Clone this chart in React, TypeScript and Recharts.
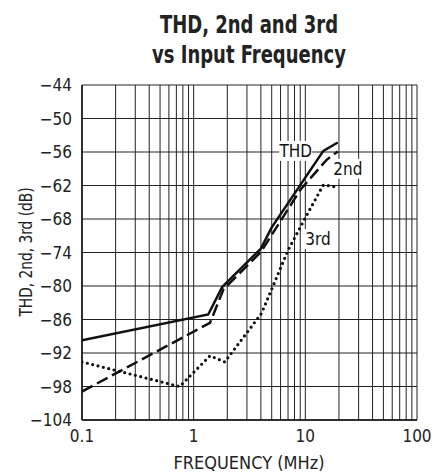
import React from 'react';
import { LineChart, Line, XAxis, YAxis, CartesianGrid, ReferenceDot } from 'recharts';

const xTicks = [0.1, 0.2, 0.3, 0.4, 0.5, 0.6, 0.7, 0.8, 0.9, 1, 2, 3, 4, 5, 6, 7, 8, 9, 10, 20, 30, 40, 50, 60, 70, 80, 90, 100];
const xLabelTicks = [0.1, 1, 10, 100];
const yTicks = [-104, -98, -92, -86, -80, -74, -68, -62, -56, -50, -44];

const thdFreq = [0.1, 1.35, 1.8, 4, 5, 14.5, 19.5];
const thdVal = [-89.7, -85.1, -80.2, -73.3, -69.5, -55.8, -54.3];
const secFreq = [0.1, 1.4, 1.85, 4, 9, 15.5, 19.5];
const secVal = [-98.9, -86.6, -80.6, -73.9, -62.8, -57.4, -55.9];
const thirdFreq = [0.1, 0.75, 1.4, 1.9, 4.05, 7, 10.3, 14.5, 19.6];
const thirdVal = [-93.6, -98.0, -92.5, -93.6, -84.9, -73.6, -67.3, -61.9, -62.3];

const seriesLabels = [
  { text: 'THD', f: 8.2, v: -55.8 },
  { text: '2nd', f: 24, v: -59.0 },
  { text: '3rd', f: 13, v: -71.6 },
];

const toRows = (fs: number[], vs: number[]) => fs.map((f, i) => ({ f, v: vs[i] }));
const thd = toRows(thdFreq, thdVal);
const sec = toRows(secFreq, secVal);
const third = toRows(thirdFreq, thirdVal);

const FONT = '"Liberation Sans Narrow", "DejaVu Sans Condensed", "Liberation Sans", sans-serif';

const fmtY = (v: number) => (v < 0 ? '\u2212' + Math.abs(v) : String(v));
const fmtX = (v: number) => (xLabelTicks.includes(v) ? String(v) : '');

const LabelShape = (text: string) => (props: any) => {
  const { cx, cy } = props;
  const w = text.length * 9 + 6;
  return (
    <g>
      <rect x={cx - w / 2} y={cy - 10} width={w} height={20} fill="#fff" />
      <text x={cx} y={cy} textAnchor="middle" dominantBaseline="central" fontFamily={FONT} fontSize={17} fill="#111">
        {text}
      </text>
    </g>
  );
};

export default function App() {
  return (
    <div style={{ position: 'absolute', left: 0, top: 0, width: 443, height: 473, background: '#fff' }}>
      <div
        style={{
          position: 'absolute', left: 0, width: 498, top: 9.6, textAlign: 'center',
          fontFamily: FONT, fontWeight: 'bold', fontSize: 25, lineHeight: '30px', color: '#222',
          transform: 'scaleX(0.8)', transformOrigin: '249px 0px',
        }}
      >
        THD, 2nd and 3rd
        <br />
        vs Input Frequency
      </div>
      <LineChart
        width={443}
        height={473}
        margin={{ top: 85, right: 26, bottom: 0, left: 0 }}
        style={{ position: 'absolute', left: 0, top: 0 }}
      >
        <CartesianGrid stroke="#222" strokeWidth={1} />
        <XAxis
          type="number"
          dataKey="f"
          scale="log"
          domain={[0.1, 100]}
          ticks={xTicks}
          tickFormatter={fmtX}
          allowDataOverflow
          height={53}
          tickLine={false}
          tickSize={0}
          tickMargin={10}
          axisLine={{ stroke: '#111', strokeWidth: 1.5 }}
          tick={{ fontFamily: FONT, fontSize: 17, fill: '#222' }}
          interval={0}
        />
        <YAxis
          type="number"
          domain={[-104, -44]}
          ticks={yTicks}
          tickFormatter={fmtY}
          width={82}
          tickLine={false}
          tickSize={0}
          tickMargin={10}
          axisLine={{ stroke: '#111', strokeWidth: 1.5 }}
          tick={{ fontFamily: FONT, fontSize: 17, fill: '#222' }}
          interval={0}
        />
        <Line data={thd} dataKey="v" type="linear" stroke="#111" strokeWidth={2.5} dot={false} isAnimationActive={false} />
        <Line data={sec} dataKey="v" type="linear" stroke="#111" strokeWidth={2.5} strokeDasharray="12 5" dot={false} isAnimationActive={false} />
        <Line data={third} dataKey="v" type="linear" stroke="#111" strokeWidth={3.2} strokeDasharray="0 5.5" strokeLinecap="round" dot={false} isAnimationActive={false} />
        {seriesLabels.map((l) => (
          <ReferenceDot key={l.text} x={l.f} y={l.v} r={0} shape={LabelShape(l.text)} ifOverflow="visible" />
        ))}
      </LineChart>
      <div
        style={{
          position: 'absolute', left: 249, top: 462, transform: 'translate(-50%, -50%)', whiteSpace: 'nowrap',
          fontFamily: FONT, fontSize: 18, color: '#222',
        }}
      >
        FREQUENCY (MHz)
      </div>
      <div
        style={{
          position: 'absolute', left: 26, top: 252, transform: 'translate(-50%, -50%) rotate(-90deg) scaleX(0.9)', whiteSpace: 'nowrap',
          fontFamily: FONT, fontSize: 17, color: '#222',
        }}
      >
        THD, 2nd, 3rd (dB)
      </div>
    </div>
  );
}
